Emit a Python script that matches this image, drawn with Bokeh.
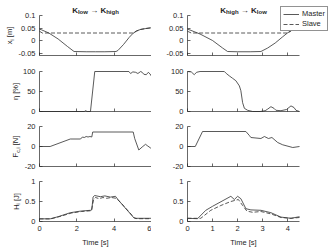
import math
from bokeh.plotting import figure
from bokeh.layouts import column, row
from bokeh.models import (Label, Legend, LegendItem, FixedTicker,
                          CustomJSTickFormatter, Range1d)
from bokeh.embed import file_html
from bokeh.resources import INLINE

# ---------------- data ----------------
# K_low -> K_high experiment (0 .. 6 s)
t_pos_a = [0, 0.1, 0.5, 1.0, 1.5, 1.85, 2.5, 3.0, 3.5, 4.1, 4.2, 4.5, 4.8, 5.0, 5.2, 5.4, 5.7, 6.0]
x_master_a = [0.045, 0.043, 0.030, 0.006, -0.024, -0.044, -0.045, -0.045, -0.045, -0.044,
              -0.040, -0.016, 0.012, 0.028, 0.038, 0.044, 0.048, 0.051]
t_xslave_a = [0, 0.15, 5.0, 5.2, 5.4, 5.7, 6.0]
x_slave_a = [0.037, 0.030, 0.030, 0.038, 0.044, 0.048, 0.051]

t_eta_a = [0, 2.4, 2.47, 2.55, 2.73, 2.96, 4.79, 4.88, 5.0, 5.15, 5.27, 5.42, 5.5,
           5.59, 5.72, 5.83, 5.92, 6.0]
eta_a = [0, 0, 2, 0, 0, 100, 100, 95, 99, 98, 95, 100, 98, 93, 92, 98, 94, 88]

t_force_a = [0, 0.57, 1.65, 2.2, 2.3, 2.4, 2.5, 2.6, 2.7, 2.8, 2.85, 5.02, 5.1,
             5.32, 5.5, 5.68, 5.8, 5.95, 6.0]
force_a = [0, 0, 7.5, 7.5, 9.5, 9, 10, 9.5, 10, 9.5, 14.5, 14.5, 8, -3.5, -0.5, 2.2,
           0.5, -1.5, -1.5]

t_hm_a = [0, 0.57, 1.0, 1.65, 2.2, 2.73, 2.8, 2.87, 2.95, 3.26, 3.5, 3.8, 4.07, 4.25,
          5.06, 5.2, 6.0]
h_master_a = [0.067, 0.067, 0.12, 0.22, 0.26, 0.28, 0.29, 0.61, 0.65, 0.62, 0.64, 0.61,
              0.63, 0.52, 0.09, 0.08, 0.08]
t_hs_a = [0, 0.6, 1.05, 1.7, 2.25, 2.78, 2.9, 3.0, 3.2, 3.4, 3.6, 3.85, 4.1, 4.3, 5.1,
          5.25, 6.0]
h_slave_a = [0.065, 0.065, 0.12, 0.21, 0.25, 0.27, 0.55, 0.60, 0.57, 0.60, 0.58, 0.60,
             0.58, 0.50, 0.08, 0.07, 0.07]

# K_high -> K_low experiment (0 .. 4.47 s)
t_pos_b = [0, 0.1, 0.5, 1.0, 1.4, 1.6, 2.0, 2.5, 2.93, 3.2, 3.5, 3.8, 4.0, 4.2, 4.47]
x_master_b = [0.045, 0.042, 0.026, 0.000, -0.030, -0.044, -0.045, -0.045, -0.044,
              -0.030, -0.010, 0.015, 0.031, 0.043, 0.050]
t_xslave_b = [0, 0.15, 4.0, 4.2, 4.47]
x_slave_b = [0.037, 0.030, 0.030, 0.043, 0.050]

t_eta_b = [0, 0.15, 0.27, 0.36, 0.5, 1.47, 1.55, 1.67, 1.8, 1.93, 2.07, 2.13, 2.2, 2.27,
           2.4, 2.6, 2.9, 3.1, 3.2, 3.33, 3.45, 3.53, 3.73, 3.95, 4.13, 4.25, 4.33, 4.47]
eta_b = [100, 99, 92, 98, 100, 100, 95, 89, 83, 77, 64, 52, 22, 8, 3, 0, 0, 2, 6, 12,
         8, 3, 2, 5, 14, 10, 3, 0]

t_force_b = [0, 0.31, 0.6, 2.33, 2.47, 2.53, 2.93, 3.07, 3.23, 3.37, 3.6, 3.8, 4.2, 4.47]
force_b = [0, 0, 15, 15, 11, 9, 8, 10, 8, 9, 4, 1.7, -1, 0]

t_hm_b = [0, 0.4, 0.73, 1.0, 1.73, 1.87, 2.0, 2.13, 2.33, 2.53, 2.93, 3.33, 3.73, 4.13, 4.47]
h_master_b = [0.08, 0.07, 0.28, 0.38, 0.63, 0.55, 0.63, 0.57, 0.32, 0.29, 0.28, 0.22,
              0.11, 0.08, 0.12]
t_hs_b = [0, 0.53, 0.93, 1.33, 1.73, 2.03, 2.2, 2.37, 2.6, 2.93, 3.33, 3.73, 4.13, 4.47]
h_slave_b = [0.08, 0.08, 0.28, 0.40, 0.50, 0.55, 0.40, 0.26, 0.23, 0.25, 0.19, 0.10,
             0.08, 0.10]

# axis ticks and limits
x_end_a, x_end_b = 6.0, 4.47
x_ticks_a = [0, 2, 4, 6]
x_ticks_b = [0, 1, 2, 3, 4]
pos_lim, pos_ticks = (-0.06, 0.1), [-0.05, 0, 0.05, 0.1]
eta_lim, eta_ticks = (0, 100), [0, 50, 100]
force_lim, force_ticks = (-20, 20), [-20, 0, 20]
h_lim, h_ticks = (0, 1), [0, 0.5, 1]

# ---------------- geometry & style ----------------
FONT = "Liberation Sans"
INK = "#262626"
LINE = "#303030"
TICK_FS = "7.5px"
DASH = "4 2"

DW, DH = 112, 40            # size of each axes box in px
FIG_W = [151, 178]          # canvas width per column
AX_X0 = [39, 36]            # px from canvas left to the y axis
ROW_H = [62, 56, 55, 79]    # canvas height per row
AX_TOP = [15, 9, 8, 8]      # px from canvas top to the top of the axes box

W_REG = {' ': 278, '[': 278, ']': 278, 'm': 833, 'x': 500, 'i': 222, '%': 889,
         'N': 722, 'F': 611, 'c': 500, ',': 278, 'H': 722, 'J': 500, 'η': 556}
W_BOLD = {'K': 722, 'l': 278, 'o': 611, 'w': 778, 'h': 611, 'i': 278, 'g': 611,
          ' ': 278, '→': 1000}


def tw(s, size, bold):
    tab = W_BOLD if bold else W_REG
    return sum(tab.get(ch, 556) for ch in s) * size / 1000.0


def rich(p, pieces, cx, cy, vertical=False, bold=False):
    """Compose text with sub-scripts from pieces (text, size, drop); text None = gap.
    cx, cy are screen px (from left / from bottom) of the centre of the baseline."""
    widths = [(sz if s is None else tw(s, sz, bold)) for s, sz, _ in pieces]
    pos = -sum(widths) / 2.0
    for (s, sz, drop), w in zip(pieces, widths):
        if s is not None:
            if vertical:
                x, y, ang = cx + drop, cy + pos, math.pi / 2
            else:
                x, y, ang = cx + pos, cy - drop, 0
            p.add_layout(Label(x=x, y=y, x_units="screen", y_units="screen", text=s,
                               angle=ang, text_font=FONT, text_font_size=f"{sz}px",
                               text_font_style="bold" if bold else "normal",
                               text_color=INK, text_align="left",
                               text_baseline="alphabetic"))
        pos += w


def style_axis(ax, ticks, labels=True):
    ax.ticker = FixedTicker(ticks=ticks)
    ax.axis_line_color = INK
    ax.axis_line_width = 0.7
    ax.major_tick_line_color = INK
    ax.major_tick_line_width = 0.7
    ax.major_tick_in = 3
    ax.major_tick_out = 0
    ax.minor_tick_line_color = None
    ax.major_label_text_font = FONT
    ax.major_label_text_color = INK
    if labels:
        ax.major_label_text_font_size = TICK_FS
        ax.major_label_standoff = 4
        ax.formatter = CustomJSTickFormatter(
            code="return String(Math.round(tick * 1000) / 1000);")
    else:
        ax.major_label_text_font_size = "0px"
        ax.major_label_standoff = 0
        ax.formatter = CustomJSTickFormatter(code="return '';")


def panel(col, r, x_end, x_ticks, y_lim, y_ticks):
    W, H = FIG_W[col], ROW_H[r]
    x0, top = AX_X0[col], AX_TOP[r]
    sx = x_end / DW
    a, b = y_lim
    sy = (b - a) / DH
    p = figure(width=W, height=H,
               x_range=Range1d(-x0 * sx, x_end + (W - x0 - DW) * sx),
               y_range=Range1d(a - (H - top - DH) * sy, b + top * sy),
               output_backend="svg", toolbar_location=None, title=None,
               min_border=0)
    p.outline_line_color = None
    p.grid.visible = False
    p.background_fill_color = "white"
    p.border_fill_color = "white"
    xa, ya = p.xaxis[0], p.yaxis[0]
    style_axis(xa, x_ticks, labels=(r == 3))
    style_axis(ya, y_ticks)
    xa.fixed_location = a
    ya.fixed_location = 0
    xa.bounds = (0, x_end)
    ya.bounds = (a, b)
    if r == 3:
        xa.axis_label = "Time [s]"
        xa.axis_label_text_font = FONT
        xa.axis_label_text_font_size = TICK_FS
        xa.axis_label_text_font_style = "normal"
        xa.axis_label_text_color = INK
        xa.axis_label_standoff = 4
    return p


def solid(p, t, v):
    return p.line(t, v, line_color=LINE, line_width=0.8)


def dashed(p, t, v):
    return p.line(t, v, line_color=LINE, line_width=0.8, line_dash=DASH)


# ---------------- panels ----------------
cols = [
    dict(x_end=x_end_a, x_ticks=x_ticks_a,
         pos=(t_pos_a, x_master_a, t_xslave_a, x_slave_a),
         eta=(t_eta_a, eta_a), force=(t_force_a, force_a),
         h=(t_hm_a, h_master_a, t_hs_a, h_slave_a)),
    dict(x_end=x_end_b, x_ticks=x_ticks_b,
         pos=(t_pos_b, x_master_b, t_xslave_b, x_slave_b),
         eta=(t_eta_b, eta_b), force=(t_force_b, force_b),
         h=(t_hm_b, h_master_b, t_hs_b, h_slave_b)),
]

grid = [[None, None] for _ in range(4)]
legend_renderers = None
for c, d in enumerate(cols):
    p0 = panel(c, 0, d["x_end"], d["x_ticks"], pos_lim, pos_ticks)
    rm = solid(p0, d["pos"][0], d["pos"][1])
    rs = dashed(p0, d["pos"][2], d["pos"][3])
    if c == 1:
        legend_renderers = (p0, rm, rs)

    p1 = panel(c, 1, d["x_end"], d["x_ticks"], eta_lim, eta_ticks)
    solid(p1, *d["eta"])

    p2 = panel(c, 2, d["x_end"], d["x_ticks"], force_lim, force_ticks)
    solid(p2, *d["force"])

    p3 = panel(c, 3, d["x_end"], d["x_ticks"], h_lim, h_ticks)
    solid(p3, d["h"][0], d["h"][1])
    dashed(p3, d["h"][2], d["h"][3])

    grid[0][c], grid[1][c], grid[2][c], grid[3][c] = p0, p1, p2, p3

# column titles (baseline 9.5 px below the canvas top)
title_y = ROW_H[0] - 9.5
gap = 8 * 0.278
rich(grid[0][0], [("K", 8, 0), ("low", 6, 2), (None, gap, 0), ("→", 8, 0),
                  (None, gap, 0), ("K", 8, 0), ("high", 6, 2)],
     AX_X0[0] + DW / 2.0, title_y, bold=True)
rich(grid[0][1], [("K", 8, 0), ("high", 6, 2), (None, gap, 0), ("→", 8, 0),
                  (None, gap, 0), ("K", 8, 0), ("low", 6, 2)],
     AX_X0[1] + DW / 2.0, title_y, bold=True)

# y-axis labels of the left column
sp = 7.5 * 0.278
ylabels = [
    (0, 9.0, [("x", 7.5, 0), ("i", 5.5, 2), (None, sp, 0), ("[m]", 7.5, 0)]),
    (1, 15.0, [("η", 7.5, 0), (None, sp, 0), ("[%]", 7.5, 0)]),
    (2, 15.0, [("F", 7.5, 0), ("c,i", 5.5, 2), (None, sp, 0), ("[N]", 7.5, 0)]),
    (3, 15.5, [("H", 7.5, 0), ("i", 5.5, 2), (None, sp, 0), ("[J]", 7.5, 0)]),
]
for r, bx, pieces in ylabels:
    cy = ROW_H[r] - (AX_TOP[r] + DH / 2.0)
    rich(grid[r][0], pieces, bx, cy, vertical=True)

# legend in the top-right panel (box from x=129..177, bottom at y=27 px of that canvas)
lp, rm, rs = legend_renderers
legend = Legend(items=[LegendItem(label="Master", renderers=[rm]),
                       LegendItem(label="Slave", renderers=[rs])],
                location=(129, ROW_H[0] - 31), orientation="vertical",
                padding=2, spacing=1, margin=0,
                glyph_width=16, glyph_height=8, label_height=8, label_width=20,
                label_standoff=3,
                label_text_font=FONT, label_text_font_size=TICK_FS,
                label_text_color=INK, border_line_color=INK,
                border_line_width=0.7, background_fill_color="white",
                background_fill_alpha=1.0)
lp.add_layout(legend)

layout = column(*[row(*grid[r]) for r in range(4)])

with open("out.html", "w") as f:
    f.write(file_html(layout, INLINE))
